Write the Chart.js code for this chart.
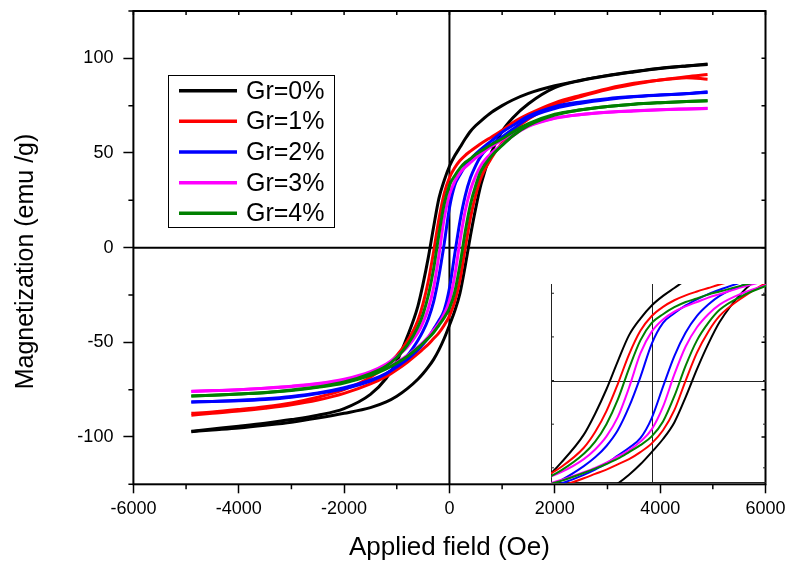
<!DOCTYPE html>
<html>
<head>
<meta charset="utf-8">
<script src="https://cdn.jsdelivr.net/npm/chart.js@4.4.1/dist/chart.umd.min.js"></script>
<style>
  body { margin: 0; background: #fff; }
  #wrap { position: relative; width: 789px; height: 563px; }
  #main { position: absolute; left: 0; top: 0; }
  #inset { position: absolute; left: 551px; top: 284px; }
</style>
</head>
<body>
<div id="wrap">
  <canvas id="main" width="789" height="563"></canvas>
  <canvas id="inset" width="215" height="199"></canvas>
</div>
<script>
  // field values (Oe): down = branch from +H to -H, up = branch from -H to +H
  const fieldDown = [4900, 4500, 4000, 3500, 3000, 2500, 2000, 1500, 1200, 1000, 800, 600, 500, 400, 300, 200, 100, 0,
    -100, -200, -300, -400, -500, -600, -800, -1000, -1200, -1500, -2000, -2500, -3000, -3500, -4000, -4500, -4900]
  const fieldUp = fieldDown.slice().reverse()

  const labels = ['Gr=0%', 'Gr=1%', 'Gr=2%', 'Gr=3%', 'Gr=4%']
  const colors = ['#000000', '#ff0000', '#0000ff', '#ff00ff', '#008000']

  // magnetization (emu/g)
  const gr0Down = [96.8, 96, 94.8, 93, 91, 88.5, 85.5, 81.5, 78, 75, 71.5, 67, 64.5, 61.5, 57.5, 53, 48.5, 43,
    35.5, 26, 11, -5, -19, -31, -47, -60, -69, -77.5, -85, -88.5, -90.8, -92.7, -94.3, -95.8, -97]
  const gr0Up = [-97.2, -96.3, -95.2, -93.8, -92.2, -90, -87.5, -84.5, -81.5, -78.5, -74.5, -69.5, -66.5, -63, -59, -54, -48, -41,
    -33.5, -24, -9.5, 6.5, 21, 33.5, 50.5, 61.5, 68.5, 76, 84.5, 88.3, 90.8, 92.8, 94.6, 96, 97]

  const gr1Down = [89, 89.8, 88.5, 86.8, 84, 80.5, 76.5, 70.5, 66, 62, 58.5, 55, 53, 51, 48.8, 46, 42.2, 37,
    28.5, 15, -2, -17.5, -29.5, -38.5, -49.5, -57, -62.5, -68.5, -75, -79, -82, -84, -85.5, -86.8, -87.5]
  const gr1Up = [-88.5, -87.5, -86.3, -84.8, -83, -80.5, -77, -72, -68, -64.5, -60.5, -56, -53.5, -51, -48, -45, -41, -36,
    -28.5, -17, 0, 16, 28, 37, 47.5, 55.5, 61.5, 68, 75.5, 79.8, 83.5, 86.3, 88.5, 90.3, 91.5]

  const gr2Down = [82, 81.3, 80.6, 79.8, 78.7, 77, 74.5, 69.5, 64.5, 61, 56.5, 52, 49.5, 46.5, 43, 38.5, 33, 21,
    2, -15, -28.5, -37.5, -44, -49, -57, -62.5, -66.5, -70.5, -74.5, -77, -79, -80.2, -80.9, -81.3, -81.5]
  const gr2Up = [-81.5, -81.2, -80.6, -79.8, -78.6, -76.8, -74, -70, -66.5, -63, -59, -54, -51, -47.5, -43, -38.5, -33, -21.5,
    -3.5, 14, 27.5, 37, 43.5, 48.5, 54.5, 58.5, 62.5, 68.5, 73.5, 76.3, 78.3, 79.7, 80.6, 81.4, 82.3]

  const gr3Down = [73.5, 73.2, 72.8, 72.2, 71.5, 70.3, 68.5, 64.5, 60.5, 57, 53.5, 49.5, 47.5, 45, 42.5, 39.5, 35, 28,
    15.5, -4, -21, -32, -39.5, -45, -52.5, -57.5, -61.5, -65.5, -69.5, -71.8, -73.2, -74.2, -75, -75.5, -75.8]
  const gr3Up = [-76, -75.6, -75, -74.3, -73.3, -72, -70, -66.8, -63.5, -60.5, -57, -52.5, -50, -47, -43.5, -40, -35, -28,
    -15, 3.5, 19.5, 30.5, 38, 43.5, 50, 54.5, 59, 64, 68.3, 70.3, 71.5, 72.3, 72.9, 73.3, 73.6]

  const gr4Down = [77.6, 77.2, 76.6, 75.8, 74.5, 72.8, 70.5, 65.5, 61, 57.5, 54.5, 51, 49.3, 47, 45, 42, 38, 33,
    23, 7, -11, -25, -35, -42, -51.5, -58, -62.5, -66.5, -71, -73.5, -75.2, -76.5, -77.3, -78, -78.4]
  const gr4Up = [-78.4, -78, -77.3, -76.6, -75.5, -73.8, -71.5, -67.5, -64, -61, -57.5, -53, -50.5, -47.8, -44.8, -41, -37, -32,
    -23.5, -9, 8.5, 23, 33, 40.5, 48.5, 54, 59, 64.5, 70, 72.8, 74.5, 75.8, 76.6, 77.2, 77.6]

  const xTicks = [-6000, -4000, -2000, 0, 2000, 4000, 6000]
  const yTicks = [-100, -50, 0, 50, 100]

  const downs = [gr0Down, gr1Down, gr2Down, gr3Down, gr4Down]
  const ups = [gr0Up, gr1Up, gr2Up, gr3Up, gr4Up]

  const fontName = '"Liberation Sans", Arial, sans-serif'
  Chart.defaults.font.family = fontName
  Chart.defaults.color = '#000'

  function makeDatasets(width) {
    const sets = []
    for (let i = 0; i < labels.length; i++) {
      const branches = [[fieldDown, downs[i]], [fieldUp, ups[i]]]
      branches.forEach(b => {
        sets.push({
          label: labels[i],
          data: b[0].map((h, k) => ({ x: h, y: b[1][k] })),
          borderColor: colors[i],
          borderWidth: width,
          pointRadius: 0,
          showLine: true,
          cubicInterpolationMode: 'monotone',
          order: labels.length - i
        })
      })
    }
    return sets
  }

  // frame, zero lines, minor ticks, y title and legend box
  const frame = {
    id: 'frame',
    beforeDatasetsDraw(chart) {
      const { ctx, chartArea: a, scales: { x, y } } = chart
      ctx.save()
      ctx.strokeStyle = '#000'
      ctx.lineWidth = 2
      ctx.beginPath()
      ctx.moveTo(x.getPixelForValue(0), a.top)
      ctx.lineTo(x.getPixelForValue(0), a.bottom)
      ctx.moveTo(a.left, y.getPixelForValue(0))
      ctx.lineTo(a.right, y.getPixelForValue(0))
      ctx.stroke()
      ctx.restore()
    },
    afterDraw(chart) {
      const { ctx, chartArea: a, scales: { x, y } } = chart
      ctx.save()
      ctx.strokeStyle = '#000'
      ctx.lineWidth = 1.5
      ctx.beginPath()
      for (let v = -5000; v <= 5000; v += 2000) {
        const px = x.getPixelForValue(v)
        ctx.moveTo(px, a.bottom); ctx.lineTo(px, a.bottom + 5)
      }
      for (let v = -6000; v <= 6000; v += 1000) {
        const px = x.getPixelForValue(v)
        ctx.moveTo(px, a.top); ctx.lineTo(px, a.top + 4)
      }
      for (let v = -125; v <= 125; v += 50) {
        const py = y.getPixelForValue(v)
        ctx.moveTo(a.left, py); ctx.lineTo(a.left - 5, py)
      }
      for (let v = -100; v <= 100; v += 25) {
        const py = y.getPixelForValue(v)
        ctx.moveTo(a.right, py); ctx.lineTo(a.right - 4, py)
      }
      ctx.stroke()
      ctx.lineWidth = 2
      ctx.strokeRect(a.left, a.top, a.right - a.left, a.bottom - a.top)

      // y axis title
      ctx.save()
      ctx.translate(26.5, 261.5)
      ctx.rotate(-Math.PI / 2)
      ctx.font = '25px ' + fontName
      ctx.textAlign = 'center'
      ctx.textBaseline = 'middle'
      ctx.fillStyle = '#000'
      ctx.fillText('Magnetization (emu /g)', 0, 0)
      ctx.restore()

      // legend
      ctx.lineWidth = 1
      ctx.strokeStyle = '#000'
      ctx.strokeRect(168.5, 75.5, 166, 152)
      ctx.font = '25px ' + fontName
      ctx.textBaseline = 'middle'
      ctx.fillStyle = '#000'
      for (let i = 0; i < labels.length; i++) {
        const ry = 90.7 + i * 30.65
        ctx.strokeStyle = colors[i]
        ctx.lineWidth = 3.5
        ctx.beginPath()
        ctx.moveTo(179, ry); ctx.lineTo(237, ry)
        ctx.stroke()
        ctx.fillText(labels[i], 246, ry + 1)
      }
      ctx.restore()
    }
  }

  new Chart(document.getElementById('main'), {
    type: 'scatter',
    data: { datasets: makeDatasets(3) },
    options: {
      responsive: false,
      animation: false,
      layout: { padding: { top: 11, right: 23.5, left: 0, bottom: 0 } },
      scales: {
        x: {
          type: 'linear', min: -6000, max: 6000,
          afterBuildTicks: s => { s.ticks = xTicks.map(v => ({ value: v })) },
          afterFit: s => { s.height = 78.7; s.paddingLeft = 0; s.paddingRight = 0 },
          ticks: { font: { size: 18 }, padding: 5, maxRotation: 0, callback: v => String(v) },
          grid: { drawOnChartArea: false, tickLength: 9, tickColor: '#000', tickWidth: 1.5 },
          border: { display: false },
          title: { display: true, text: 'Applied field (Oe)', font: { size: 26 }, padding: { top: 0, bottom: 0 } }
        },
        y: {
          type: 'linear', min: -125, max: 125,
          afterBuildTicks: s => { s.ticks = yTicks.map(v => ({ value: v })) },
          afterFit: s => { s.width = 133.4; s.paddingTop = 0; s.paddingBottom = 0 },
          ticks: { font: { size: 18 }, padding: 10, callback: v => String(v) },
          grid: { drawOnChartArea: false, tickLength: 10, tickColor: '#000', tickWidth: 1.5 },
          border: { display: false }
        }
      },
      plugins: { legend: { display: false }, tooltip: { enabled: false } }
    },
    plugins: [frame]
  })

  // inset: the same loops, zoomed on the centre
  const insetFrame = {
    id: 'insetFrame',
    beforeDatasetsDraw(chart) {
      const { ctx, chartArea: a, scales: { x, y } } = chart
      ctx.save()
      ctx.strokeStyle = '#222'
      ctx.lineWidth = 1
      ctx.beginPath()
      const x0 = Math.round(x.getPixelForValue(0)) + 0.5
      const y0 = Math.round(y.getPixelForValue(0)) + 0.5
      ctx.moveTo(x0, a.top); ctx.lineTo(x0, a.bottom)
      ctx.moveTo(a.left, y0); ctx.lineTo(a.right, y0)
      ctx.moveTo(a.left + 0.5, a.top); ctx.lineTo(a.left + 0.5, a.bottom)
      ctx.moveTo(a.left, a.bottom - 0.5); ctx.lineTo(a.right, a.bottom - 0.5)
      for (let v = -50; v <= 50; v += 25) {
        const py = y.getPixelForValue(v)
        ctx.moveTo(a.left, py); ctx.lineTo(a.left + 3, py)
        ctx.moveTo(a.right, py); ctx.lineTo(a.right - 3, py)
      }
      ctx.stroke()
      ctx.restore()
    }
  }

  new Chart(document.getElementById('inset'), {
    type: 'scatter',
    data: { datasets: makeDatasets(2) },
    options: {
      responsive: false,
      animation: false,
      layout: { padding: 0 },
      scales: {
        x: { type: 'linear', min: -890, max: 1010, display: false },
        y: { type: 'linear', min: -58.7, max: 55.3, display: false }
      },
      plugins: { legend: { display: false }, tooltip: { enabled: false } }
    },
    plugins: [insetFrame]
  })
</script>
</body>
</html>
